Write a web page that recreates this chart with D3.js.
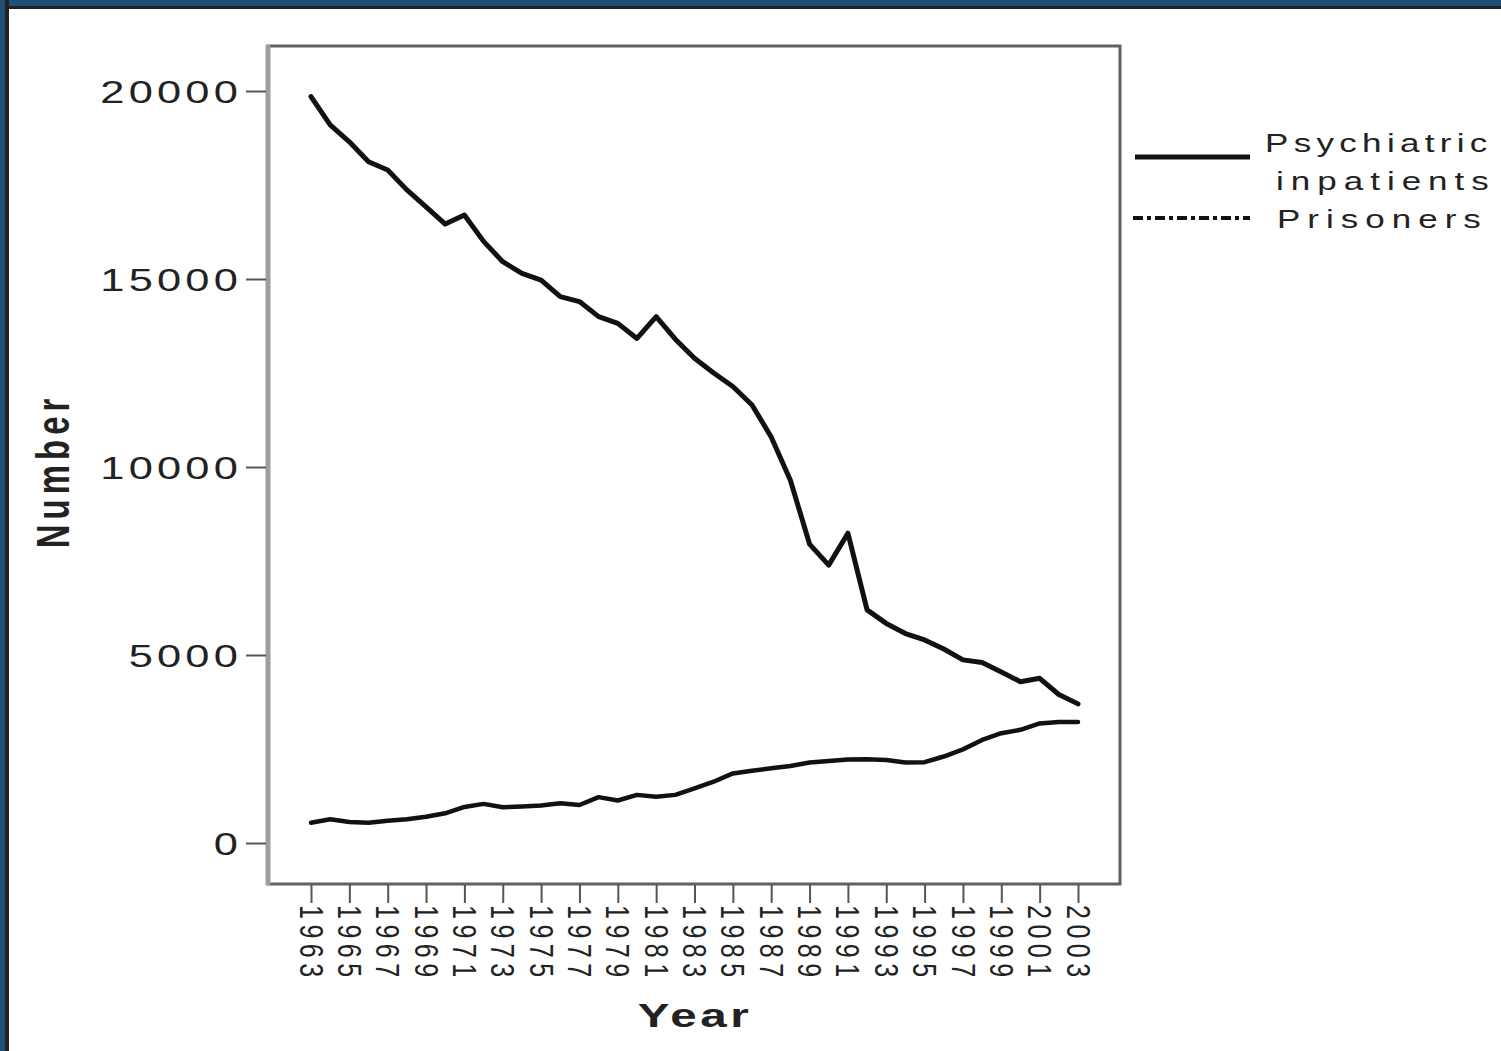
<!DOCTYPE html>
<html>
<head>
<meta charset="utf-8">
<script src="https://cdn.jsdelivr.net/npm/d3@7"></script>
<style>
  html, body { margin: 0; padding: 0; background: #fff; }
  svg { display: block; }
  text { font-family: "Liberation Sans", Arial, sans-serif; fill: #222; }
</style>
</head>
<body>
<svg id="chart" width="1501" height="1051"></svg>
<script>
const years = [1963,1964,1965,1966,1967,1968,1969,1970,1971,1972,1973,1974,1975,1976,1977,1978,1979,1980,1981,1982,1983,1984,1985,1986,1987,1988,1989,1990,1991,1992,1993,1994,1995,1996,1997,1998,1999,2000,2001,2002,2003];
const psychiatricInpatients = [19850,19100,18650,18120,17900,17370,16920,16460,16700,16000,15460,15150,14970,14530,14400,14000,13820,13420,14000,13400,12890,12500,12140,11650,10800,9650,7950,7390,8240,6200,5840,5570,5400,5160,4870,4800,4550,4290,4380,3950,3700];
const prisoners = [540,630,560,540,590,630,700,790,960,1040,950,970,1000,1060,1010,1220,1130,1280,1230,1280,1450,1630,1850,1920,1990,2050,2140,2180,2220,2230,2210,2140,2150,2300,2490,2740,2920,3010,3180,3220,3220];
const yTicks = [0,5000,10000,15000,20000];
const xTicks = [1963,1965,1967,1969,1971,1973,1975,1977,1979,1981,1983,1985,1987,1989,1991,1993,1995,1997,1999,2001,2003];
const seriesNames = ["Psychiatric", "inpatients", "Prisoners"];
const xTitle = "Year";
const yTitle = "Number";

const svg = d3.select("#chart");
const W = 1501, H = 1051;
svg.append("rect").attr("width", W).attr("height", H).attr("fill", "#fff");

// outer frame (top & left)
svg.append("rect").attr("x",0).attr("y",0).attr("width",W).attr("height",9).attr("fill","#222");
svg.append("rect").attr("x",0).attr("y",0).attr("width",W).attr("height",6).attr("fill","#1f4e79");
svg.append("rect").attr("x",0).attr("y",0).attr("width",9).attr("height",H).attr("fill","#222");
svg.append("rect").attr("x",0).attr("y",0).attr("width",5).attr("height",H).attr("fill","#1f4e79");

const plot = {left: 268, top: 46, right: 1120, bottom: 884};
const x = d3.scaleLinear().domain([1963, 2003]).range([311, 1078]);
const y = d3.scaleLinear().domain([0, 20000]).range([843, 91]);

// plot box
svg.append("rect")
  .attr("x", plot.left).attr("y", plot.top)
  .attr("width", plot.right - plot.left).attr("height", plot.bottom - plot.top)
  .attr("fill", "none").attr("stroke", "#606060").attr("stroke-width", 3);
svg.append("line")
  .attr("x1", plot.left).attr("x2", plot.left)
  .attr("y1", plot.top - 1).attr("y2", plot.bottom + 1)
  .attr("stroke", "#9e9e9e").attr("stroke-width", 5);

// Y axis
const yAxis = svg.append("g")
  .attr("transform", `translate(${plot.left - 2},0)`)
  .call(d3.axisLeft(y).tickValues(yTicks).tickSize(20).tickFormat(d3.format("d")));
yAxis.select(".domain").remove();
yAxis.selectAll(".tick line").attr("stroke", "#555").attr("stroke-width", 2);
yAxis.selectAll(".tick text")
  .attr("x", null).attr("dy", null)
  .attr("transform", "translate(-24,1) scale(1.4,1)")
  .attr("text-anchor", "end")
  .attr("dominant-baseline", "central")
  .style("font-size", "31px")
  .style("letter-spacing", "3px")
  .style("fill", "#222");

// X axis
const xAxis = svg.append("g")
  .attr("transform", `translate(0,${plot.bottom + 1})`)
  .call(d3.axisBottom(x).tickValues(xTicks).tickSize(18).tickFormat(d3.format("d")));
xAxis.select(".domain").remove();
xAxis.selectAll(".tick line").attr("stroke", "#555").attr("stroke-width", 2);
xAxis.selectAll(".tick text")
  .attr("y", null).attr("dy", null)
  .attr("transform", "translate(0,20) scale(1.35,1) rotate(90)")
  .attr("text-anchor", "start")
  .attr("dominant-baseline", "central")
  .style("font-size", "25px")
  .style("letter-spacing", "5.5px")
  .style("fill", "#222");

// lines
const line = d3.line().x((d, i) => x(years[i])).y(d => y(d));
svg.append("path").datum(psychiatricInpatients)
  .attr("d", line).attr("fill", "none").attr("stroke", "#111")
  .attr("stroke-width", 5).attr("stroke-linejoin", "round").attr("stroke-linecap", "round");
svg.append("path").datum(prisoners)
  .attr("d", line).attr("fill", "none").attr("stroke", "#111")
  .attr("stroke-width", 4.5).attr("stroke-linejoin", "round").attr("stroke-linecap", "round");

// axis titles
svg.append("text")
  .attr("transform", "translate(69,471) scale(1.4,1) rotate(-90)")
  .attr("text-anchor", "middle")
  .style("font-size", "33px").style("font-weight", "bold").style("letter-spacing", "5px")
  .text(yTitle);
svg.append("text")
  .attr("transform", "translate(695,1027) scale(1.4,1)")
  .attr("text-anchor", "middle")
  .style("font-size", "34px").style("font-weight", "bold").style("letter-spacing", "2.5px")
  .text(xTitle);

// legend
const lg = svg.append("g");
lg.append("line").attr("x1", 1135).attr("x2", 1250).attr("y1", 157).attr("y2", 157)
  .attr("stroke", "#111").attr("stroke-width", 5);
lg.append("line").attr("x1", 1133).attr("x2", 1250).attr("y1", 218).attr("y2", 218)
  .attr("stroke", "#111").attr("stroke-width", 4).attr("stroke-dasharray", "10,4,4,4");
const legendText = [
  {t: seriesNames[0], x: 1265, y: 152, ls: 3.8},
  {t: seriesNames[1], x: 1276, y: 190, ls: 5},
  {t: seriesNames[2], x: 1277, y: 228, ls: 5}
];
lg.selectAll("text.leg").data(legendText).enter().append("text")
  .attr("class", "leg")
  .attr("transform", d => `translate(${d.x},${d.y}) scale(1.4,1)`)
  .style("font-size", "25px").style("letter-spacing", d => d.ls + "px")
  .text(d => d.t);
</script>
</body>
</html>
